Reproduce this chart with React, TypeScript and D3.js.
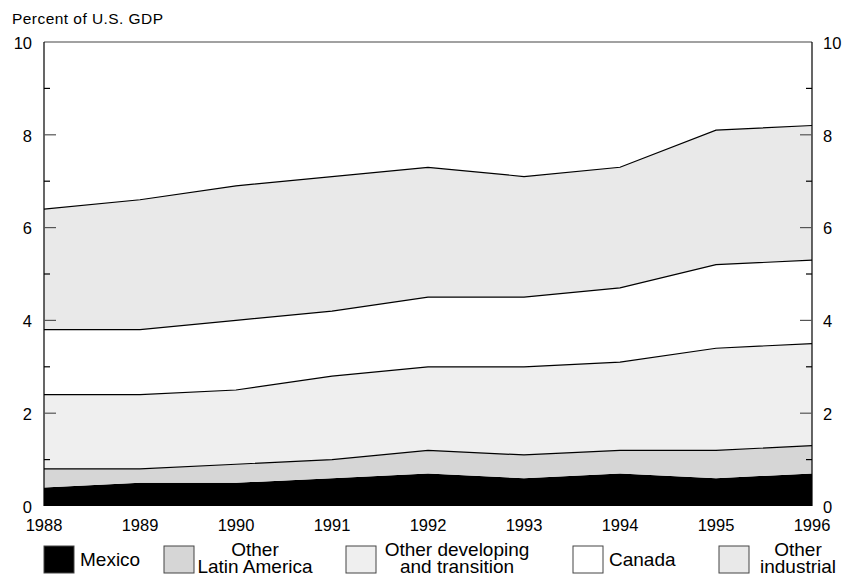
import React, { useEffect, useRef } from "react";
import * as d3 from "d3";

const years = [1988, 1989, 1990, 1991, 1992, 1993, 1994, 1995, 1996];
// cumulative tops, turned into layer values below
const mexicoTop = [0.4, 0.5, 0.5, 0.6, 0.7, 0.6, 0.7, 0.6, 0.7];
const latinTop = [0.8, 0.8, 0.9, 1.0, 1.2, 1.1, 1.2, 1.2, 1.3];
const developingTop = [2.4, 2.4, 2.5, 2.8, 3.0, 3.0, 3.1, 3.4, 3.5];
const canadaTop = [3.8, 3.8, 4.0, 4.2, 4.5, 4.5, 4.7, 5.2, 5.3];
const industrialTop = [6.4, 6.6, 6.9, 7.1, 7.3, 7.1, 7.3, 8.1, 8.2];

const seriesKeys = ["mexico", "latin", "developing", "canada", "industrial"];
const seriesColors = ["#000000", "#d6d6d6", "#efefef", "#ffffff", "#e9e9e9"];
const yTicks = [0, 2, 4, 6, 8, 10];
const yMinor = [1, 3, 5, 7, 9];

const legendItems = [
  { key: "mexico", lines: ["Mexico"], x: 44, cx: 0 },
  { key: "latin", lines: ["Other", "Latin America"], x: 164, cx: 255 },
  { key: "developing", lines: ["Other developing", "and transition"], x: 346, cx: 457 },
  { key: "canada", lines: ["Canada"], x: 573, cx: 0 },
  { key: "industrial", lines: ["Other", "industrial"], x: 719, cx: 798 },
];

export default function App() {
  const svgRef = useRef<SVGSVGElement>(null);

  useEffect(() => {
    if (!svgRef.current) return;
    const width = 842;
    const height = 577;
    const marginLeft = 44;
    const marginRight = 30;
    const marginTop = 42;
    const marginBottom = 71;

    const svg = d3.select(svgRef.current);
    svg.selectAll("*").remove();
    svg.attr("width", width).attr("height", height).style("font-family", "'Liberation Sans', Arial, sans-serif");

    const tops = [mexicoTop, latinTop, developingTop, canadaTop, industrialTop];
    const table = years.map((year, i) => {
      const row: any = { year };
      seriesKeys.forEach((k, j) => {
        row[k] = tops[j][i] - (j > 0 ? tops[j - 1][i] : 0);
      });
      return row;
    });

    const x = d3.scaleLinear().domain([1988, 1996]).range([marginLeft, width - marginRight]);
    const y = d3.scaleLinear().domain([0, 10]).range([height - marginBottom, marginTop]);

    const stacked = d3.stack().keys(seriesKeys)(table);
    const area = d3.area<any>()
      .x(d => x(d.data.year))
      .y0(d => y(d[0]))
      .y1(d => y(d[1]));
    const topLine = d3.line<any>()
      .x(d => x(d.data.year))
      .y(d => y(d[1]));

    svg.append("g")
      .selectAll("path")
      .data(stacked)
      .join("path")
      .attr("fill", (_, i) => seriesColors[i])
      .attr("d", area);

    svg.append("g")
      .selectAll("path")
      .data(stacked.slice(1))
      .join("path")
      .attr("fill", "none")
      .attr("stroke", "#000")
      .attr("stroke-width", 1.2)
      .attr("d", topLine);

    // frame
    const frame = svg.append("g").attr("stroke", "#000").attr("stroke-width", 1.2);
    frame.append("line").attr("x1", marginLeft).attr("x2", width - marginRight).attr("y1", marginTop).attr("y2", marginTop).attr("stroke", "#444");
    frame.append("line").attr("x1", marginLeft).attr("x2", marginLeft).attr("y1", marginTop).attr("y2", y(0));
    frame.append("line").attr("x1", width - marginRight).attr("x2", width - marginRight).attr("y1", marginTop).attr("y2", y(0));

    // ticks
    const ticks = svg.append("g").attr("stroke", "#555").attr("stroke-width", 1.2);
    yTicks.slice(1, -1).forEach(t => {
      ticks.append("line").attr("x1", marginLeft).attr("x2", marginLeft + 12).attr("y1", y(t)).attr("y2", y(t));
      ticks.append("line").attr("x1", width - marginRight - 12).attr("x2", width - marginRight).attr("y1", y(t)).attr("y2", y(t));
    });
    yMinor.forEach(t => {
      ticks.append("line").attr("x1", marginLeft).attr("x2", marginLeft + 6).attr("y1", y(t)).attr("y2", y(t)).attr("stroke", "#000");
      ticks.append("line").attr("x1", width - marginRight - 6).attr("x2", width - marginRight).attr("y1", y(t)).attr("y2", y(t)).attr("stroke", "#000");
    });

    const labels = svg.append("g").attr("font-size", 16.5).attr("fill", "#000");
    yTicks.forEach(t => {
      labels.append("text").attr("x", marginLeft - 12).attr("y", y(t) + 1).attr("dy", "0.35em").attr("text-anchor", "end").text(t);
      labels.append("text").attr("x", width - marginRight + 11).attr("y", y(t) + 1).attr("dy", "0.35em").attr("text-anchor", "start").text(t);
    });
    years.forEach(yr => {
      labels.append("text").attr("x", x(yr)).attr("y", 531).attr("text-anchor", "middle").text(yr);
    });

    svg.append("text").attr("x", 12).attr("y", 24).attr("font-size", 15.5).attr("letter-spacing", 0.45).text("Percent of U.S. GDP");

    // legend
    const legend = svg.append("g").attr("font-size", 19);
    legendItems.forEach(item => {
      const c = seriesColors[seriesKeys.indexOf(item.key)];
      legend.append("rect")
        .attr("x", item.x).attr("y", 546).attr("width", 30).attr("height", 27)
        .attr("fill", c).attr("stroke", "#444").attr("stroke-width", 1);
      if (item.lines.length === 1) {
        legend.append("text").attr("x", item.x + 36).attr("y", 566).text(item.lines[0]);
      } else {
        const t = legend.append("text").attr("text-anchor", "middle");
        item.lines.forEach((l, k) => {
          t.append("tspan").attr("x", item.cx).attr("y", 556 + k * 17).text(l);
        });
      }
    });
  }, []);

  return <svg ref={svgRef} style={{ position: "absolute", left: 0, top: 0 }} />;
}
